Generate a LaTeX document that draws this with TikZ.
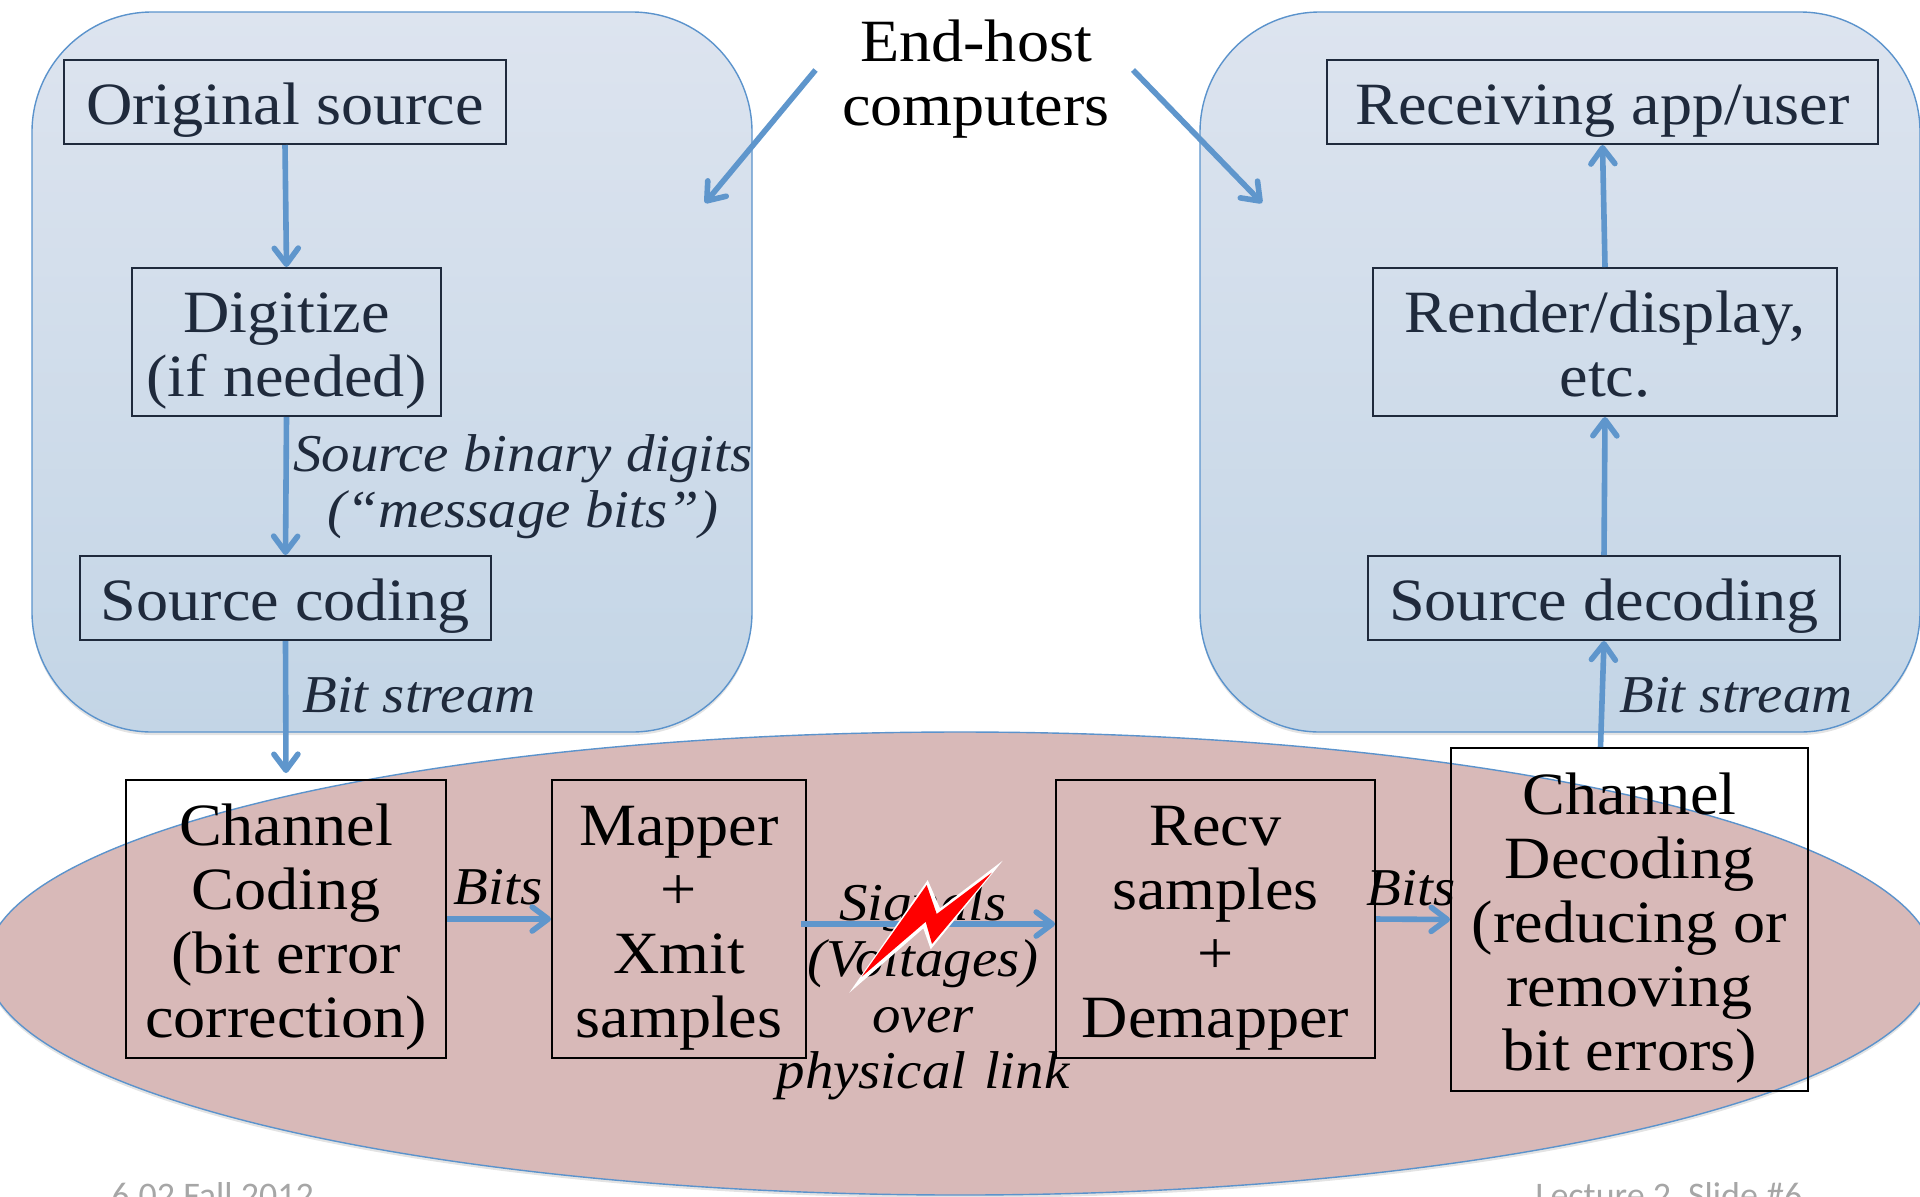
\documentclass[tikz,border=0pt]{standalone}
\usepackage{fontspec}
\setmainfont{Liberation Serif}[FakeStretch=1.07]
\newfontfamily\footfont{Carlito}
\usetikzlibrary{arrows.meta,calc,shadows,shapes.geometric}
\definecolor{ink}{HTML}{1F2A3C}
\definecolor{flow}{HTML}{5F96CC}
\definecolor{edge}{HTML}{5B93CC}
\definecolor{endtop}{HTML}{DDE4EF}
\definecolor{endbot}{HTML}{C3D5E6}
\definecolor{linkfill}{HTML}{D8B9B8}
\newcommand{\lnst}{\rule[-7pt]{0pt}{36.5pt}}
\newcommand{\stagefont}{\fontsize{30}{32}\selectfont\setlength{\lineskiplimit}{-100pt}}
\tikzset{
  host/.style={rectangle,rounded corners=60pt,draw=edge,line width=.7pt,top color=endtop,bottom color=endbot,minimum width=360pt,minimum height=360pt,inner sep=0pt,drop shadow={opacity=.22,shadow xshift=0pt,shadow yshift=-1.5pt}},
  stage/.style={rectangle,draw=ink,line width=1pt,inner sep=0pt,align=center,text=ink,font=\stagefont},
  linkstage/.style={stage,draw=black,text=black},
  flowarrow/.style={draw=flow,line width=2.8pt,-{Straight Barb[length=8pt,width=12pt,round]}},
  note/.style={inner sep=0pt,align=center,text=ink,font=\fontsize{26.6}{28}\selectfont\itshape},
  linknote/.style={note,text=black},
  foot/.style={inner sep=0pt,text=black!35,font=\footfont\fontsize{18}{20}\selectfont},
}
\begin{document}
\begin{tikzpicture}[x=.5pt,y=-.5pt]
\useasboundingbox (0,0) rectangle (1920,1196);
\clip (0,0) rectangle (1920,1196);
\node[foot,anchor=base west] (footl) at (111,1207) {6.02 Fall 2012};
\node[foot,anchor=base west] (footr) at (1535,1207) {Lecture 2, Slide \#6};
\node[host] (lefthost) at (392,372) {};
\node[host] (righthost) at (1560,372) {};
\node[ellipse,draw=edge,line width=.7pt,fill=linkfill,minimum width=974pt,minimum height=231.5pt,inner sep=0pt,drop shadow={opacity=.22,shadow xshift=0pt,shadow yshift=-1.5pt}] (linkarea) at (960,963.5) {};
\node[stage,minimum width=221pt,minimum height=42pt] (orig) at (285,102) {\lnst Original source};
\node[stage,minimum width=154.5pt,minimum height=74pt] (dig) at (286.5,342) {\lnst Digitize\\\lnst (if needed)};
\node[stage,minimum width=205.5pt,minimum height=42pt] (sc) at (285.5,598) {\lnst Source coding};
\node[linkstage,minimum width=160pt,minimum height=139pt] (cc) at (286,919) {\lnst Channel\\Coding\\(bit error\\\lnst correction)};
\node[linkstage,minimum width=127pt,minimum height=139pt] (map) at (679,919) {\lnst Mapper\\+\\Xmit\\\lnst samples};
\node[linkstage,minimum width=159.5pt,minimum height=139pt] (recv) at (1215.5,919) {\lnst Recv\\samples\\+\\\lnst Demapper};
\node[linkstage,minimum width=178.5pt,minimum height=171.5pt] (cd) at (1629.5,919.5) {\lnst Channel\\Decoding\\(reducing or\\removing\\\lnst bit errors)};
\node[stage,minimum width=275.5pt,minimum height=42pt] (app) at (1602.5,102) {\lnst Receiving app/user};
\node[stage,minimum width=232pt,minimum height=74pt] (rend) at (1605,342) {\lnst Render/display,\\\lnst etc.};
\node[stage,minimum width=236pt,minimum height=42pt] (sd) at (1604,598) {\lnst Source decoding};
\node[inner sep=0pt,align=center,font=\fontsize{30}{32}\selectfont] (hosts) at (976,79) {End-host\\computers};
\node[note] (msg) at (523,487) {Source binary digits\\(“message bits”)};
\node[note] (bsl) at (419,695) {Bit stream};
\node[note] (bsr) at (1736,695) {Bit stream};
\node[linknote] (bitsl) at (498,887) {Bits};
\node[linknote] (bitsr) at (1411,888) {Bits};
\node[linknote,text width=300pt] (sig) at (923,992) {Signals\\(Voltages)\\over\\physical link};
\coordinate (hl) at (815.5,70);
\coordinate (hlend) at (705,203);
\coordinate (hr) at (1133,70);
\coordinate (hrend) at (1262,203);
\draw[flowarrow] (hl) -- (hlend);
\draw[flowarrow] (hr) -- (hrend);
\draw[flowarrow] (orig.south) -- (dig.north);
\draw[flowarrow] (dig.south) -- (sc.north);
\draw[flowarrow,shorten >=3pt] (sc.south) -- (cc.north);
\draw[flowarrow] (cc.east) -- (map.west);
\draw[flowarrow] ($(map.east)+(-6,5)$) -- ($(recv.west)+(0,5)$);
\draw[flowarrow] (recv.east) -- (cd.west);
\draw[flowarrow] ($(cd.north)+(-29,0)$) -- (sd.south);
\draw[flowarrow] (sd.north) -- (rend.south);
\draw[flowarrow] (rend.north) -- (app.south);
\fill[white] (1002.7,860.7) -- (940,908.3) -- (927.7,880) -- (849.3,992.7) -- (923.3,928.3) -- (930.7,949.3) -- cycle;
\fill[red] (991.7,872.7) -- (936.7,914) -- (926.7,885) -- (861.7,976.7) -- (925.7,921.7) -- (932,944) -- cycle;
\end{tikzpicture}
\end{document}
